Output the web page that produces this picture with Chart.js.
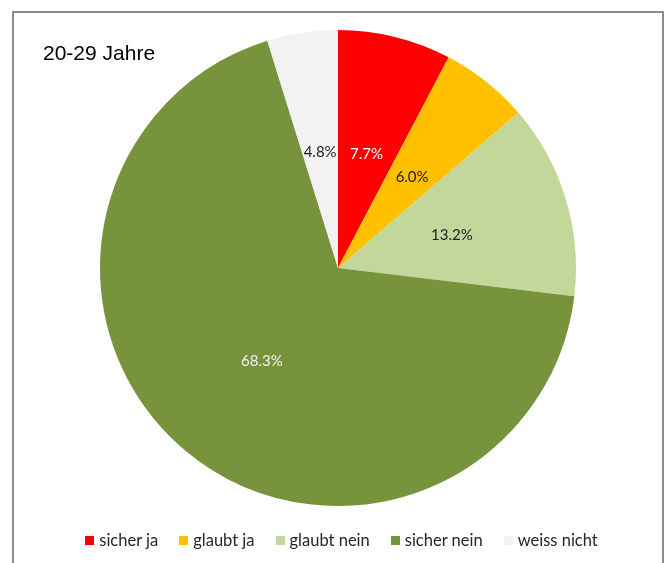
<!DOCTYPE html>
<html>
<head>
<meta charset="utf-8">
<script src="https://cdn.jsdelivr.net/npm/chart.js@4/dist/chart.umd.min.js"></script>
<style>
  html, body { margin: 0; padding: 0; background: #fff; }
  #wrap { position: relative; width: 669px; height: 563px; overflow: hidden; }
  #frame { position: absolute; left: 12px; top: 11px; width: 652px; height: 600px; border: 2px solid #8c8c8c; box-sizing: border-box; }
  #title { position: absolute; left: 43px; top: 41px; font: 21px "Liberation Sans", Arial, sans-serif; color: #000; white-space: nowrap; }
  #c { position: absolute; left: 0; top: 0; }
  #legend { position: absolute; left: 0; width: 669px; top: 530px; display: flex; justify-content: center; padding-left: 14px; box-sizing: border-box; font: 16.5px Lato, "Open Sans", sans-serif; color: #262626; }
  .item { display: flex; align-items: center; margin: 0 10.5px; }
  .box { width: 9px; height: 9px; margin-right: 5px; }
</style>
</head>
<body>
<div id="wrap">
  <canvas id="c" width="669" height="563"></canvas>
  <div id="frame"></div>
  <div id="title">20-29 Jahre</div>
  <div id="legend"></div>
</div>
<script>
const categories = ["sicher ja", "glaubt ja", "glaubt nein", "sicher nein", "weiss nicht"];
const values = [7.7, 6.0, 13.2, 68.3, 4.8];
const colors = ["#FF0000", "#FFC000", "#C4D79B", "#77933C", "#F2F2F2"];
const labelColors = ["#FFFFFF", "#222222", "#222222", "#F2F2F2", "#222222"];

const labelPlugin = {
  id: 'sliceLabels',
  afterDatasetsDraw(chart) {
    const ctx = chart.ctx;
    const meta = chart.getDatasetMeta(0);
    ctx.save();
    ctx.font = '15px Lato, "Open Sans", sans-serif';
    ctx.textAlign = 'center';
    ctx.textBaseline = 'middle';
    meta.data.forEach((arc, i) => {
      const p = arc.tooltipPosition();
      ctx.fillStyle = labelColors[i];
      ctx.fillText(values[i].toFixed(1) + '%', p.x, p.y + 2);
    });
    ctx.restore();
  }
};

new Chart(document.getElementById('c'), {
  type: 'pie',
  data: {
    labels: categories,
    datasets: [{ data: values, backgroundColor: colors, borderWidth: 0 }]
  },
  options: {
    responsive: false,
    animation: false,
    layout: { padding: { top: 30, bottom: 57, left: 100, right: 93 } },
    plugins: { legend: { display: false }, tooltip: { enabled: false } }
  },
  plugins: [labelPlugin]
});

const lg = document.getElementById('legend');
categories.forEach((c, i) => {
  const it = document.createElement('div');
  it.className = 'item';
  const b = document.createElement('span');
  b.className = 'box';
  b.style.background = colors[i];
  const t = document.createElement('span');
  t.textContent = c;
  it.appendChild(b); it.appendChild(t);
  lg.appendChild(it);
});
</script>
</body>
</html>
